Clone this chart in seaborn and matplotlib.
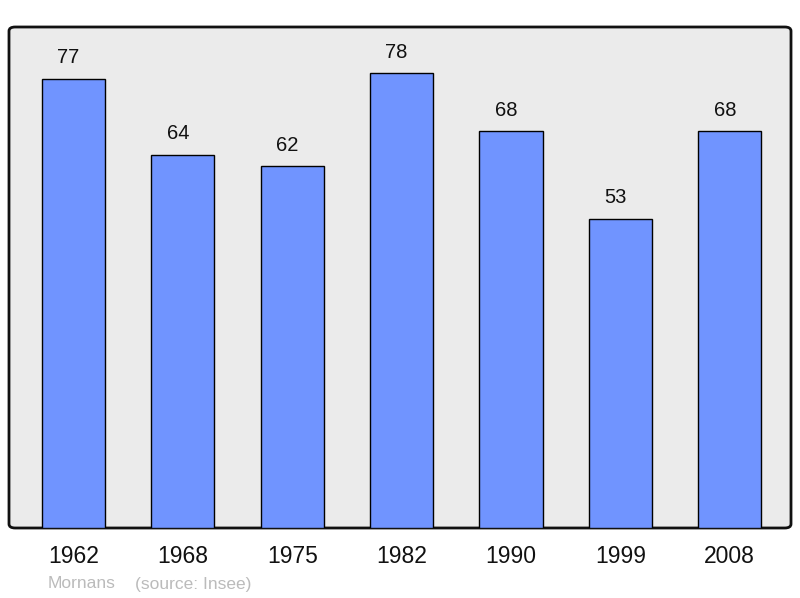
import seaborn as sns
import matplotlib.pyplot as plt
import pandas as pd
from matplotlib.patches import FancyBboxPatch

years = ["1962", "1968", "1975", "1982", "1990", "1999", "2008"]
population = [77, 64, 62, 78, 68, 53, 68]
town = "Mornans"
source = "(source: Insee)"

df = pd.DataFrame({"year": years, "pop": population})

sns.set_style("white")
plt.rcParams["font.family"] = ["Liberation Sans", "DejaVu Sans"]

fig = plt.figure(figsize=(8, 5.98), dpi=100)
ax = fig.add_axes([9 / 800, 70 / 598, 782 / 800, 501 / 598])
ax.set_facecolor("none")

# rounded grey background box
bg = FancyBboxPatch((0, 0), 1, 1, boxstyle="round,pad=0,rounding_size=0.008",
                    transform=ax.transAxes, facecolor="#ebebeb",
                    edgecolor="#111111", linewidth=2, zorder=0, clip_on=False)
ax.add_patch(bg)

sns.barplot(data=df, x="year", y="pop", color="#7094ff", saturation=1,
            width=0.577, edgecolor="black", linewidth=1, ax=ax, zorder=2)

# value labels, slightly left of bar centre like the original
for bar, val in zip(ax.containers[0], population):
    ax.annotate(str(val), (bar.get_x() + bar.get_width() / 2, bar.get_height()),
                xytext=(-5, 21), textcoords="offset pixels",
                ha="center", va="center", fontsize=14.5, color="#111111")

ax.set_xlim(-0.59, 6.56)
ax.set_ylim(0, 85.9)
ax.set_yticks([])
ax.set_xlabel("")
ax.set_ylabel("")
ax.tick_params(axis="x", length=0, labelsize=16.5, pad=12, colors="#111111")
for s in ax.spines.values():
    s.set_visible(False)

fig.text(48 / 800, 1 - 584 / 598, town, fontsize=12.5, color="#bbbbbb", va="center")
fig.text(135 / 800, 1 - 584 / 598, source, fontsize=12.5, color="#bbbbbb", va="center")

fig.savefig("out.png", dpi=100)
